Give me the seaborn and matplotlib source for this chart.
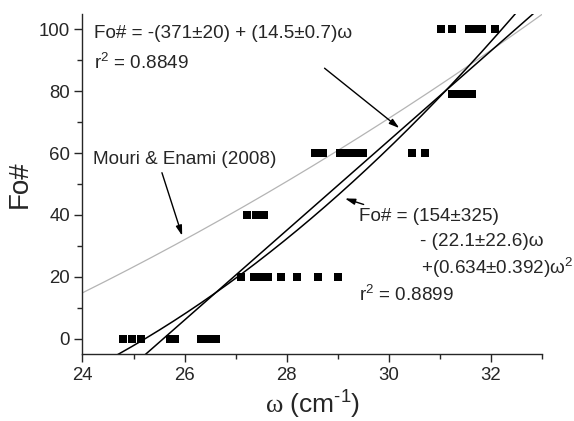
import numpy as np
import pandas as pd
import matplotlib
matplotlib.use("Agg")
import matplotlib.pyplot as plt
from matplotlib.ticker import MultipleLocator
import seaborn as sns

# measured points: omega (cm^-1) grouped by Fo# level
fo_levels = [0, 20, 40, 60, 79, 100]
omega_fo0 = [24.80, 24.97, 25.14, 25.71, 25.82, 26.33, 26.47, 26.62]
omega_fo20 = [27.10, 27.37, 27.51, 27.63, 27.88, 28.20, 28.61, 29.00]
omega_fo40 = [27.22, 27.39, 27.55]
omega_fo60 = [28.55, 28.72, 29.05, 29.20, 29.35, 29.50, 30.45, 30.72]
omega_fo80 = [31.24, 31.37, 31.51, 31.63]
omega_fo100 = [31.02, 31.24, 31.57, 31.72, 31.82, 32.08]

# curve coefficients (highest power first)
lin_fit = [14.5, -371]
quad_fit = [0.634, -22.1, 154]
mouri_enami = [0.2, -1.4, -66.8]

groups = [omega_fo0, omega_fo20, omega_fo40, omega_fo60, omega_fo80, omega_fo100]
rows = []
for level, omegas in zip(fo_levels, groups):
    for w in omegas:
        rows.append({"omega": w, "fo": level})
df = pd.DataFrame(rows)

sns.set_style("ticks")
plt.rcParams["font.family"] = ["Liberation Sans", "DejaVu Sans"]
plt.rcParams["mathtext.fontset"] = "custom"
plt.rcParams["mathtext.rm"] = "Liberation Sans"
plt.rcParams["mathtext.it"] = "Liberation Sans:italic"
plt.rcParams["mathtext.sf"] = "Liberation Serif"
plt.rcParams["axes.linewidth"] = 1.0

fig, ax = plt.subplots(figsize=(5.74, 4.21), dpi=100)
fig.subplots_adjust(left=0.1437, right=0.944, bottom=0.159, top=0.967)

grid = np.linspace(24, 33, 300)
sns.lineplot(x=grid, y=np.polyval(mouri_enami, grid), color="#b4b4b4", lw=0.9, ax=ax)
sns.lineplot(x=grid, y=np.polyval(lin_fit, grid), color="black", lw=1.1, ax=ax)
sns.lineplot(x=grid, y=np.polyval(quad_fit, grid), color="black", lw=1.1, ax=ax)
sns.scatterplot(data=df, x="omega", y="fo", marker="s", s=30, color="black",
                linewidth=0, ax=ax, zorder=3)

ax.set_xlim(24, 33)
ax.set_ylim(-5, 105)
ax.xaxis.set_major_locator(MultipleLocator(2))
ax.xaxis.set_minor_locator(MultipleLocator(1))
ax.yaxis.set_major_locator(MultipleLocator(20))
ax.yaxis.set_minor_locator(MultipleLocator(10))
ax.tick_params(which="major", direction="out", length=6, width=1, labelsize=13.4, pad=3)
ax.tick_params(which="minor", direction="out", length=3.5, width=1)
sns.despine(ax=ax)

ax.set_xlabel("$\\mathsf{ω}$ (cm$^{\u20101}$)", fontsize=19, labelpad=4)
ax.set_ylabel("Fo#", fontsize=20, labelpad=4)

fs = 13.6
ax.text(24.22, 98.8, "Fo# = -(371±20) + (14.5±0.7)ω", fontsize=fs, va="center")
ax.text(24.22, 89.1, "r$^2$ = 0.8849", fontsize=fs, va="center")
ax.text(24.2, 58.0, "Mouri & Enami (2008)", fontsize=fs, va="center")
ax.text(29.42, 39.4, "Fo# = (154±325)", fontsize=fs, va="center")
ax.text(30.61, 31.3, "- (22.1±22.6)ω", fontsize=fs, va="center")
ax.text(30.64, 22.7, "+(0.634±0.392)ω$^2$", fontsize=fs, va="center")
ax.text(29.42, 14.0, "r$^2$ = 0.8899", fontsize=fs, va="center")

arrow = dict(arrowstyle="-|>,head_length=0.6,head_width=0.18", color="black", lw=1)
ax.annotate("", xy=(30.25, 67.5), xytext=(28.7, 88.0), arrowprops=arrow)
ax.annotate("", xy=(25.97, 32.4), xytext=(25.54, 54.5), arrowprops=arrow)
ax.annotate("", xy=(29.09, 45.6), xytext=(29.56, 43.1), arrowprops=arrow)

fig.savefig("out.png", dpi=100)
